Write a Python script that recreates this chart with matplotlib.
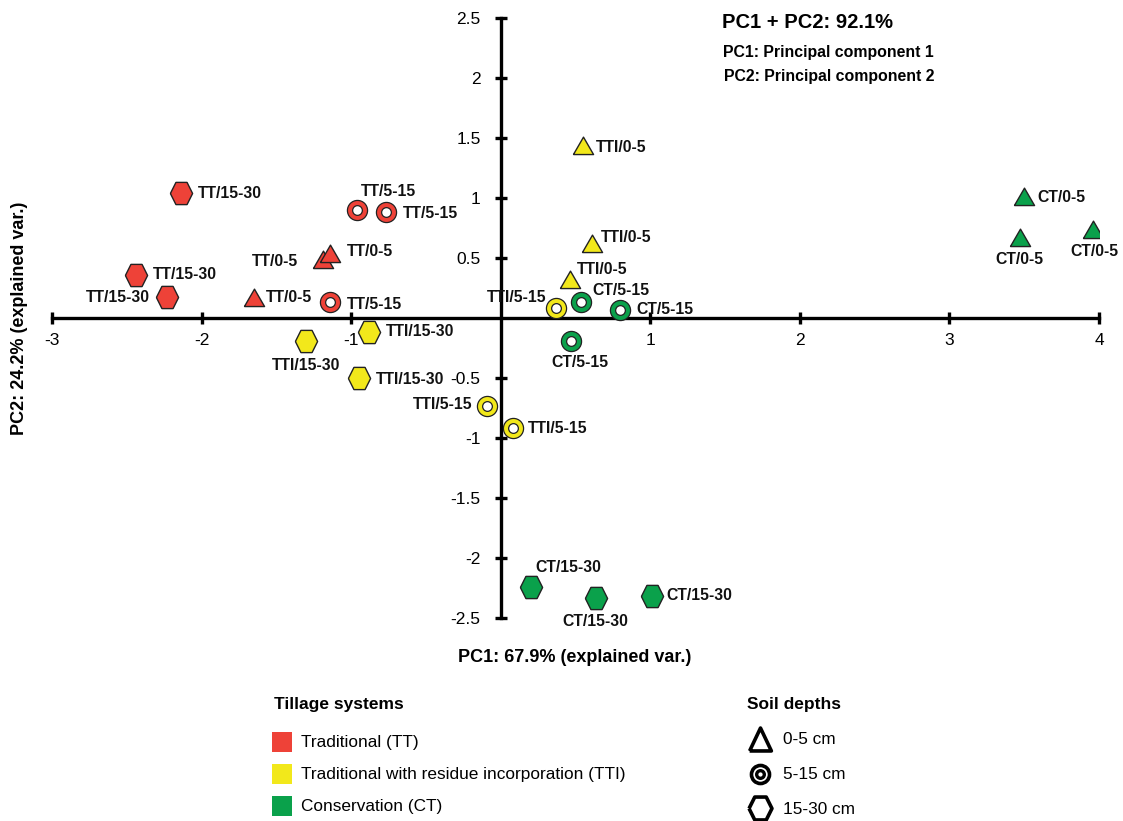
import matplotlib
matplotlib.use("Agg")
import matplotlib.pyplot as plt
from matplotlib.lines import Line2D
from matplotlib.patches import Rectangle
from matplotlib.ticker import FuncFormatter
import matplotlib.font_manager as fm

# ---------------- data ----------------
systems = ["TT", "TTI", "CT"]
system_names = ["Traditional (TT)",
                "Traditional with residue incorporation (TTI)",
                "Conservation (CT)"]
depths = ["0-5", "5-15", "15-30"]
depth_names = ["0-5 cm", "5-15 cm", "15-30 cm"]

# TT
tt_pc1 = [-1.65, -1.19, -1.14, -1.14, -0.96, -0.77, -2.14, -2.44, -2.23]
tt_pc2 = [0.17, 0.48, 0.53, 0.13, 0.90, 0.88, 1.04, 0.36, 0.175]
tt_depth = ["0-5", "0-5", "0-5", "5-15", "5-15", "5-15", "15-30", "15-30", "15-30"]
# TTI
tti_pc1 = [0.55, 0.61, 0.46, 0.37, -0.09, 0.08, -0.88, -1.30, -0.95]
tti_pc2 = [1.43, 0.62, 0.32, 0.08, -0.73, -0.92, -0.12, -0.19, -0.50]
tti_depth = ["0-5", "0-5", "0-5", "5-15", "5-15", "5-15", "15-30", "15-30", "15-30"]
# CT
ct_pc1 = [3.50, 3.47, 3.96, 0.54, 0.80, 0.47, 0.20, 0.64, 1.01]
ct_pc2 = [1.01, 0.67, 0.73, 0.13, 0.07, -0.19, -2.24, -2.33, -2.32]
ct_depth = ["0-5", "0-5", "0-5", "5-15", "5-15", "5-15", "15-30", "15-30", "15-30"]

x_ticks = [-3, -2, -1, 1, 2, 3, 4]
y_ticks = [-2.5, -2, -1.5, -1, -0.5, 0.5, 1, 1.5, 2, 2.5]

# ---------------- styles (label placement, in pixels) ----------------
# (dx, dy, ha)  dy positive = upward
tt_lab = [(12, 0, "left"), (-25, -1, "right"), (17, 3, "left"),
          (17, -2, "left"), (31, 19, "center"), (17, -1, "left"),
          (17, 0, "left"), (17, 0, "left"), (-17, 0, "right")]
tti_lab = [(13, -1, "left"), (9, 6, "left"), (7, 10, "left"),
           (-10, 11, "right"), (-15, 1, "right"), (15, 0, "left"),
           (17, 1, "left"), (0, -25, "center"), (17, -1, "left")]
ct_lab = [(13, -1, "left"), (0, -22, "center"), (1, -21, "center"),
          (11, 12, "left"), (16, 0, "left"), (9, -22, "center"),
          (38, 19, "center"), (-1, -24, "center"), (15, 1, "left")]

colors = {"TT": "#EE4238", "TTI": "#F2E81B", "CT": "#0AA14B"}
edge = "#222222"

names = {f.name for f in fm.fontManager.ttflist}
BASE = "Liberation Sans" if "Liberation Sans" in names else "DejaVu Sans"
NARROW = "Liberation Sans Narrow" if "Liberation Sans Narrow" in names else BASE
plt.rcParams["font.family"] = [BASE, "DejaVu Sans"]

W, H = 1123, 821
fig = plt.figure(figsize=(W / 100, H / 100), dpi=100)
fig.patch.set_facecolor("white")

def fx(px):
    return px / W

def fy(py):
    return 1 - py / H

ax = fig.add_axes([fx(52), fy(618), fx(1099) - fx(52), fy(18) - fy(618)])
ax.set_xlim(-3, 4)
ax.set_ylim(-2.5, 2.5)
ax.set_facecolor("none")
for s in ["top", "right"]:
    ax.spines[s].set_visible(False)
ax.spines["left"].set_position(("data", 0))
ax.spines["bottom"].set_position(("data", 0))
for s in ["left", "bottom"]:
    ax.spines[s].set_linewidth(2.4)
    ax.spines[s].set_zorder(1)
ax.set_xticks(x_ticks)
ax.set_yticks(y_ticks)
fmt = FuncFormatter(lambda v, p: ("%g" % v))
ax.xaxis.set_major_formatter(fmt)
ax.yaxis.set_major_formatter(fmt)
ax.tick_params(axis="both", direction="inout", length=9, width=2.4,
               labelsize=12.5, colors="black")
ax.tick_params(axis="x", pad=6)
ax.tick_params(axis="y", pad=10)

tri_verts = [(-1, -0.8), (1, -0.8), (0, 0.93), (-1, -0.8)]
leg_tri = [(-0.95, -1), (0.95, -1), (0, 1), (-0.95, -1)]
hex_verts = [(-1, 0), (-0.5, -1), (0.5, -1), (1, 0), (0.5, 1),
             (-0.5, 1), (-1, 0)]

def draw(pc1, pc2, dep, sysname, labs):
    c = colors[sysname]
    for x, y, d, (dx, dy, ha) in zip(pc1, pc2, dep, labs):
        if d == "0-5":
            ax.plot(x, y, marker=tri_verts, ms=14.5, mfc=c, mec=edge, mew=1.0,
                    ls="none", zorder=3)
        elif d == "5-15":
            ax.plot(x, y, marker="o", ms=14.5, mfc=c, mec=edge, mew=0.9,
                    ls="none", zorder=3)
            ax.plot(x, y, marker="o", ms=7.0, mfc="white", mec=edge, mew=0.9,
                    ls="none", zorder=4)
        else:
            ax.plot(x, y, marker=hex_verts, ms=16, mfc=c, mec=edge, mew=1.0,
                    ls="none", zorder=3)
        ax.annotate(f"{sysname}/{d}", (x, y), xytext=(dx, dy),
                    textcoords="offset pixels", ha=ha, va="center",
                    fontsize=11.3, fontweight="bold", color="#111111", zorder=5)

draw(tt_pc1, tt_pc2, tt_depth, "TT", tt_lab)
draw(tti_pc1, tti_pc2, tti_depth, "TTI", tti_lab)
draw(ct_pc1, ct_pc2, ct_depth, "CT", ct_lab)

# axis titles
fig.text(fx(575), fy(657), "PC1: 67.9% (explained var.)", ha="center",
         va="center", fontsize=13, fontweight="bold")
fig.text(fx(20), fy(318), "PC2: 24.2% (explained var.)", ha="center",
         va="center", rotation=90, fontsize=13, fontweight="bold")

# top-right annotation
fig.text(fx(722), fy(22), "PC1 + PC2: 92.1%", ha="left", va="center",
         fontsize=14.5, fontweight="bold")
fig.text(fx(723), fy(52), "PC1: Principal component 1", ha="left",
         va="center", fontsize=11.4, fontweight="bold")
fig.text(fx(724), fy(76), "PC2: Principal component 2", ha="left",
         va="center", fontsize=11.4, fontweight="bold")

# legend: tillage systems
fig.text(fx(274), fy(704), "Tillage systems", ha="left", va="center",
         fontsize=12.5, fontweight="bold", family=[NARROW, "DejaVu Sans"])
sq_y = [742, 774, 806]
for sname, lab, yy in zip(systems, system_names, sq_y):
    fig.patches.append(Rectangle((fx(272), fy(yy + 10)), fx(20), fy(yy - 10) - fy(yy + 10),
                                 transform=fig.transFigure, facecolor=colors[sname],
                                 edgecolor="none"))
    fig.text(fx(301), fy(yy), lab, ha="left", va="center", fontsize=12.4,
             family=[NARROW, "DejaVu Sans"])

# legend: soil depths
fig.text(fx(747), fy(704), "Soil depths", ha="left", va="center",
         fontsize=12.5, fontweight="bold", family=[NARROW, "DejaVu Sans"])
dep_y = [739, 774, 808]
fig.add_artist(Line2D([fx(760)], [fy(dep_y[0])], marker=leg_tri, ms=16.5,
                      mfc="white", mec="black", mew=2.6, ls="none",
                      transform=fig.transFigure))
fig.add_artist(Line2D([fx(760)], [fy(dep_y[1])], marker="o", ms=13,
                      mfc="white", mec="black", mew=2.6, ls="none",
                      transform=fig.transFigure))
fig.add_artist(Line2D([fx(760)], [fy(dep_y[1])], marker="o", ms=5.5,
                      mfc="white", mec="black", mew=2.4, ls="none",
                      transform=fig.transFigure))
fig.add_artist(Line2D([fx(760)], [fy(dep_y[2])], marker=hex_verts, ms=16.5,
                      mfc="white", mec="black", mew=2.6, ls="none",
                      transform=fig.transFigure))
text_y = [739, 774, 809]
for lab, yy in zip(depth_names, text_y):
    fig.text(fx(783), fy(yy), lab, ha="left", va="center", fontsize=12.4,
             family=[NARROW, "DejaVu Sans"])

fig.savefig("out.png", dpi=100, facecolor="white")
